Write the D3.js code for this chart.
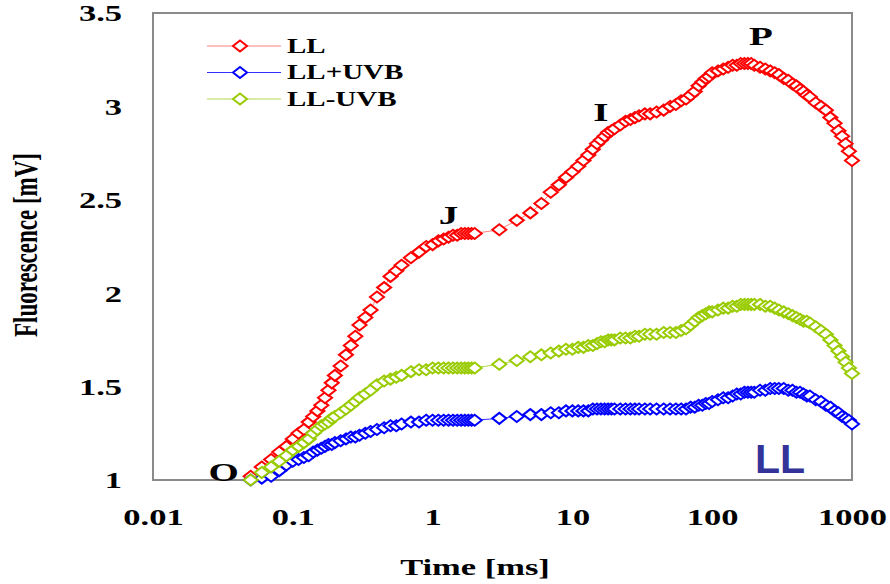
<!DOCTYPE html>
<html>
<head>
<meta charset="utf-8">
<script src="https://cdn.jsdelivr.net/npm/d3@7"></script>
<style>
  html, body { margin: 0; padding: 0; background: #fff; }
  svg { display: block; }
  .serif { font-family: "Liberation Serif", "Times New Roman", serif; font-weight: bold; fill: #000; }
</style>
</head>
<body>
<svg id="chart" width="890" height="584"></svg>
<script>
'use strict';

// ── Data ────────────────────────────────────────────────────────────────────
const times = [
  0.05, 0.06, 0.07, 0.08, 0.09, 0.10, 0.11, 0.12, 0.13, 0.14, 0.15, 0.16, 0.17, 0.18, 0.19, 0.20,
  0.22, 0.24, 0.26, 0.28, 0.30, 0.33, 0.36, 0.40, 0.45, 0.50, 0.55, 0.60, 0.70, 0.80, 0.90, 1.0,
  1.1, 1.2, 1.3, 1.4, 1.5, 1.6, 1.7, 1.8, 1.9, 2.0,
  3, 4, 5, 6, 7, 8, 9, 10, 11, 12, 13, 14, 15, 16, 17, 18, 19, 20,
  22, 24, 26, 28, 30, 33, 36, 40, 45, 50, 55, 60, 65, 70, 75, 80, 85, 90, 95, 100,
  110, 120, 130, 140, 150, 160, 170, 180, 190, 200, 220, 240, 260, 280, 300, 325,
  350, 375, 400, 425, 450, 475, 500, 550, 600, 650, 700, 750, 800, 850, 900, 950, 1000];

const valuesLL = [
  1.02, 1.07, 1.11, 1.15, 1.18, 1.22, 1.25, 1.27, 1.31, 1.34, 1.37, 1.40, 1.44, 1.48, 1.52, 1.56,
  1.61, 1.67, 1.72, 1.77, 1.83, 1.87, 1.91, 1.98, 2.03, 2.09, 2.12, 2.15, 2.19, 2.22, 2.25, 2.26,
  2.28, 2.29, 2.30, 2.31, 2.31, 2.32, 2.32, 2.32, 2.32, 2.32,
  2.34, 2.39, 2.43, 2.48, 2.54, 2.58, 2.62, 2.65, 2.68, 2.71, 2.74, 2.77, 2.80, 2.82, 2.84, 2.86, 2.87, 2.88,
  2.90, 2.92, 2.93, 2.94, 2.95, 2.96, 2.96, 2.97, 2.98, 3.00, 3.01, 3.03, 3.04, 3.06, 3.08, 3.11, 3.13, 3.15, 3.16, 3.18,
  3.19, 3.20, 3.21, 3.22, 3.22, 3.23, 3.23, 3.23, 3.23, 3.22, 3.21, 3.20, 3.19, 3.18, 3.17, 3.15,
  3.14, 3.12, 3.11, 3.09, 3.08, 3.06, 3.05, 3.02, 3.00, 2.98, 2.94, 2.91, 2.87, 2.84, 2.80, 2.76, 2.71];

const valuesLLplus = [
  1.00, 1.01, 1.02, 1.05, 1.08, 1.10, 1.11, 1.12, 1.13, 1.15, 1.16, 1.17, 1.18, 1.19, 1.19, 1.20,
  1.21, 1.22, 1.23, 1.23, 1.24, 1.25, 1.26, 1.27, 1.28, 1.29, 1.29, 1.30, 1.31, 1.31, 1.32, 1.32,
  1.32, 1.32, 1.32, 1.32, 1.32, 1.32, 1.32, 1.32, 1.32, 1.32,
  1.33, 1.34, 1.35, 1.35, 1.36, 1.36, 1.37, 1.37, 1.37, 1.37, 1.37, 1.38, 1.38, 1.38, 1.38, 1.38, 1.38, 1.38,
  1.38, 1.38, 1.38, 1.38, 1.38, 1.38, 1.38, 1.38, 1.38, 1.38, 1.38, 1.38, 1.38, 1.39, 1.39, 1.40, 1.40, 1.41, 1.41, 1.42,
  1.43, 1.44, 1.44, 1.45, 1.46, 1.46, 1.47, 1.47, 1.47, 1.47, 1.48, 1.48, 1.49, 1.49, 1.49, 1.49,
  1.48, 1.48, 1.47, 1.47, 1.46, 1.45, 1.45, 1.43, 1.42, 1.40, 1.39, 1.37, 1.36, 1.34, 1.33, 1.32, 1.30];

const valuesLLminus = [
  1.00, 1.04, 1.07, 1.10, 1.13, 1.16, 1.18, 1.20, 1.22, 1.25, 1.27, 1.29, 1.30, 1.31, 1.33, 1.34,
  1.36, 1.38, 1.40, 1.42, 1.44, 1.46, 1.48, 1.51, 1.53, 1.54, 1.55, 1.56, 1.58, 1.59, 1.59, 1.60,
  1.60, 1.60, 1.60, 1.60, 1.60, 1.60, 1.60, 1.60, 1.60, 1.60,
  1.62, 1.64, 1.66, 1.67, 1.68, 1.69, 1.70, 1.70, 1.71, 1.71, 1.72, 1.72, 1.73, 1.74, 1.74, 1.75, 1.75, 1.75,
  1.76, 1.76, 1.76, 1.77, 1.77, 1.78, 1.78, 1.78, 1.79, 1.79, 1.79, 1.80, 1.81, 1.83, 1.85, 1.87, 1.88, 1.89, 1.90, 1.90,
  1.91, 1.92, 1.92, 1.93, 1.93, 1.94, 1.94, 1.94, 1.94, 1.94, 1.94, 1.93, 1.93, 1.92, 1.91, 1.90,
  1.89, 1.88, 1.87, 1.86, 1.85, 1.85, 1.84, 1.82, 1.80, 1.78, 1.75, 1.72, 1.69, 1.66, 1.63, 1.60, 1.57];

const seriesNames  = ['LL', 'LL+UVB', 'LL-UVB'];
const seriesColors = ['#ff0000', '#0000ff', '#99cc00'];
const lineColors   = ['#ff8080', '#3030ff', '#b0d84a'];
const seriesValues = [valuesLL, valuesLLplus, valuesLLminus];

const xTicks = [0.01, 0.1, 1, 10, 100, 1000];
const xTickLabels = ['0.01', '0.1', '1', '10', '100', '1000'];
const yTicks = [1, 1.5, 2, 2.5, 3, 3.5];

const phaseLabels = [
  { text: 'O', t: 0.032, v: 0.995 },
  { text: 'J', t: 1.3, v: 2.37 },
  { text: 'I', t: 16, v: 2.92 },
  { text: 'P', t: 223, v: 3.33 },
];

// ── Layout ──────────────────────────────────────────────────────────────────
const STRETCH = 1.5;   // the original figure is stretched horizontally
const margin = { left: 153, top: 13, right: 38, bottom: 104 };
const W = 890, H = 584;
const plotW = W - margin.left - margin.right;
const plotH = H - margin.top - margin.bottom;

const svg = d3.select('#chart');
const g = svg.append('g').attr('transform', `translate(${margin.left},${margin.top})`);

const x = d3.scaleLog().domain([0.01, 1000]).range([0, plotW]);
const y = d3.scaleLinear().domain([1, 3.5]).range([plotH, 0]);

// ── Frame ───────────────────────────────────────────────────────────────────
g.append('rect')
  .attr('width', plotW).attr('height', plotH)
  .attr('fill', 'none').attr('stroke', '#8a8a8a').attr('stroke-width', 2);

// ── Axes (labels only, no tick marks) ──────────────────────────────────────
const yAxis = g.append('g')
  .call(d3.axisLeft(y).tickValues(yTicks).tickSize(0).tickFormat(d3.format('')));
yAxis.select('.domain').remove();
yAxis.selectAll('text')
  .attr('class', 'serif')
  .attr('font-size', 23)
  .attr('x', -31 / STRETCH)
  .attr('dy', '0.34em')
  .attr('transform', `scale(${STRETCH},1)`);

const xAxis = g.append('g')
  .attr('transform', `translate(0,${plotH})`)
  .call(d3.axisBottom(x).tickValues(xTicks).tickSize(0).tickFormat((d, i) => xTickLabels[i]));
xAxis.select('.domain').remove();
xAxis.selectAll('text')
  .attr('class', 'serif')
  .attr('font-size', 23)
  .attr('y', 45)
  .attr('dy', 0)
  .attr('transform', `scale(${STRETCH},1)`);

// ── Axis titles ────────────────────────────────────────────────────────────
svg.append('text')
  .attr('class', 'serif')
  .attr('font-size', 23)
  .attr('text-anchor', 'middle')
  .attr('transform', `translate(475,575) scale(${STRETCH},1)`)
  .text('Time [ms]');

svg.append('text')
  .attr('class', 'serif')
  .attr('font-size', 23)
  .attr('text-anchor', 'middle')
  .attr('transform', `translate(37,245) rotate(-90) scale(1,${STRETCH})`)
  .text('Fluorescence [mV]');

// ── Series ─────────────────────────────────────────────────────────────────
const diamond = 'M0,-5.5L7,0L0,5.5L-7,0Z';
const line = d3.line().x(d => x(d.t)).y(d => y(d.v));

seriesValues.forEach((vals, i) => {
  const pts = times.map((t, k) => ({ t, v: vals[k] }));
  const sg = g.append('g');
  sg.append('path')
    .datum(pts)
    .attr('d', line)
    .attr('fill', 'none')
    .attr('stroke', lineColors[i])
    .attr('stroke-width', 1);
  sg.selectAll('path.pt')
    .data(pts).join('path')
    .attr('class', 'pt')
    .attr('d', diamond)
    .attr('transform', d => `translate(${x(d.t)},${y(d.v)})`)
    .attr('fill', '#fff')
    .attr('stroke', seriesColors[i])
    .attr('stroke-width', 2);
});

// ── Phase labels ───────────────────────────────────────────────────────────
g.selectAll('text.phase')
  .data(phaseLabels).join('text')
  .attr('class', 'serif phase')
  .attr('font-size', 26)
  .attr('text-anchor', 'middle')
  .attr('transform', d => `translate(${x(d.t)},${y(d.v)}) scale(${STRETCH},1)`)
  .text(d => d.text);

// ── Panel tag ──────────────────────────────────────────────────────────────
svg.append('text')
  .attr('x', 755).attr('y', 473)
  .attr('font-family', '"Liberation Sans", Arial, sans-serif')
  .attr('font-weight', 'bold')
  .attr('font-size', 41)
  .attr('fill', '#333399')
  .text('LL');

// ── Legend ─────────────────────────────────────────────────────────────────
const legend = svg.append('g');
seriesNames.forEach((name, i) => {
  const ly = 46 + i * 26.5;
  legend.append('line')
    .attr('x1', 207).attr('x2', 281).attr('y1', ly).attr('y2', ly)
    .attr('stroke', lineColors[i]).attr('stroke-width', 1);
  legend.append('path')
    .attr('d', diamond)
    .attr('transform', `translate(240,${ly})`)
    .attr('fill', '#fff')
    .attr('stroke', seriesColors[i])
    .attr('stroke-width', 2);
  legend.append('text')
    .attr('class', 'serif')
    .attr('font-size', 20)
    .attr('transform', `translate(287,${ly + 6.5}) scale(1.45,1)`)
    .text(name);
});
</script>
</body>
</html>
